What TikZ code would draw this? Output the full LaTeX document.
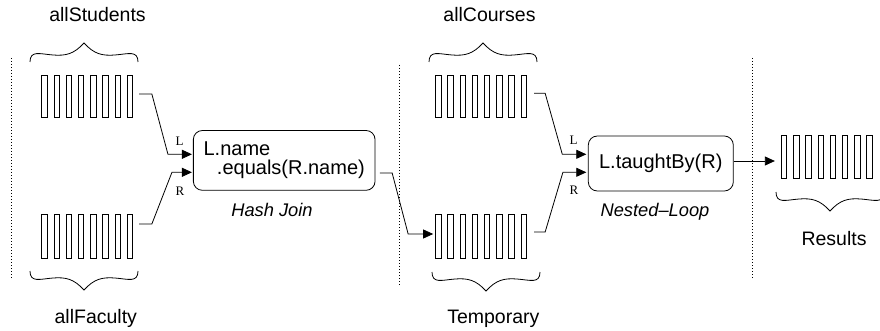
\documentclass[tikz,border=0pt]{standalone}
\usepackage{fontspec}
\setmainfont{Liberation Sans}
\newfontfamily\serifL{Liberation Serif}
\usetikzlibrary{arrows.meta}

\tikzset{
  buffer/.style={inner sep=0pt, minimum width=90.9pt},
  opbox/.style={draw, line width=0.8pt, rounded corners=9pt, inner sep=0pt,
    font=\fontsize{20pt}{19.5pt}\selectfont},
  setlabel/.style={anchor=base, font=\fontsize{19.5pt}{22pt}\selectfont},
  oplabel/.style={font=\fontsize{18.3pt}{22pt}\selectfont\itshape},
  sidelabel/.style={font=\serifL\fontsize{13pt}{15pt}\selectfont, inner sep=0pt},
  flow/.style={line width=0.8pt, -{Triangle[length=10pt,width=9pt]}},
  separator/.style={line width=0.8pt, dash pattern=on 1pt off 2pt},
  wavebrace/.pic={
    \draw[line width=0.8pt] (0,0) .. controls (0,-12) and (10,-8) .. (23,-7)
      .. controls (36,-6) and (44,-8) .. (54,-19)
      .. controls (64,-8) and (72,-6) .. (85,-7)
      .. controls (98,-8) and (108,-12) .. (108,0);
  }
}

\begin{document}
\begin{tikzpicture}[x=1pt, y=-1pt]
  \useasboundingbox (0,0) rectangle (880,331);

  % phase separators
  \draw[separator] (11.5,58) -- (11.5,278);
  \draw[separator] (399,65) -- (399,285);
  \draw[separator] (752,58) -- (752,278);

  % buffers (tuple streams)
  \node[buffer, minimum height=41pt] (stu) at (87.4,96.5) {};
  \node[buffer, minimum height=43pt] (fac) at (87.4,236.5) {};
  \node[buffer, minimum height=41pt] (crs) at (481.2,96.5) {};
  \node[buffer, minimum height=43pt] (tmp) at (481.2,236.5) {};
  \node[buffer, minimum height=42pt] (res) at (827,157) {};
  \foreach \n in {stu,fac,crs,tmp,res}
    \foreach \i in {0,...,7}
      \draw[line width=0.8pt] ([xshift=\i*12.2pt]\n.south west)
        rectangle ([xshift=\i*12.2pt+5.5pt]\n.north west);

  % braces
  \pic at (30,62) {wavebrace};
  \pic[yscale=-1] at (30,271) {wavebrace};
  \pic at (429,62) {wavebrace};
  \pic[yscale=-1] at (432,272) {wavebrace};
  \pic[yscale=-1] at (776,192) {wavebrace};

  % set labels
  \node[setlabel] (lstu) at (97.5,21.7) {allStudents};
  \node[setlabel] (lfac) at (95.8,323.3) {allFaculty};
  \node[setlabel] (lcrs) at (489.5,21.7) {allCourses};
  \node[setlabel] (ltmp) at (493.3,323.3) {Temporary};
  \node[setlabel] (lres) at (834,245) {Results};

  % join operators
  \node[opbox, minimum width=181.7pt, minimum height=59.8pt, align=left]
    (hj) at (284.2,160.4) {L.name\\\hspace*{13.4pt}.equals(R.name)};
  \node[opbox, minimum width=145pt, minimum height=55pt]
    (nl) at (660.8,163.5) {L.taughtBy(R)};
  \node[oplabel] (hjname) at (272,209.5) {Hash Join};
  \node[oplabel] (nlname) at (655,211.5) {Nested\textendash Loop};

  % input sides
  \node[sidelabel] (hjLl) at (179.5,141.5) {L};
  \node[sidelabel] (hjRl) at (180,191) {R};
  \node[sidelabel] (nlLl) at (573.5,140) {L};
  \node[sidelabel] (nlRl) at (574,190) {R};

  % connector end points
  \coordinate (hjL) at ([shift={(-1pt,6.1pt)}]hj.west);
  \coordinate (hjR) at ([shift={(-1pt,-11.9pt)}]hj.west);
  \coordinate (nlL) at ([shift={(-1.6pt,9.2pt)}]nl.west);
  \coordinate (nlR) at ([shift={(-1.6pt,-8.8pt)}]nl.west);
  \coordinate (tmpIn) at ([shift={(-2.4pt,2.5pt)}]tmp.west);
  \coordinate (nlOut) at ([yshift=2.5pt]nl.east);
  \coordinate (resIn) at ([xshift=-6.5pt]res.west);

  % data flow
  \draw[flow] ([shift={(6.1pt,2.5pt)}]stu.east) -- ++(12.7,0)
    -- ([xshift=-24pt]hjL) -- (hjL);
  \draw[flow] ([shift={(6.1pt,12.5pt)}]fac.east) -- ++(12.7,0)
    -- ([xshift=-20pt]hjR) -- (hjR);
  \draw[flow] ([shift={(4.3pt,-12.6pt)}]hj.east) -- ++(12.4,0)
    -- ([xshift=-25pt]tmpIn) -- (tmpIn);
  \draw[flow] ([shift={(7.3pt,3.2pt)}]crs.east) -- ++(11,0)
    -- ([xshift=-24pt]nlL) -- (nlL);
  \draw[flow] ([shift={(7.3pt,4.5pt)}]tmp.east) -- ++(11,0)
    -- ([xshift=-23.4pt]nlR) -- (nlR);
  \draw[flow] (nlOut) -- (nlOut -| resIn);
\end{tikzpicture}
\end{document}
